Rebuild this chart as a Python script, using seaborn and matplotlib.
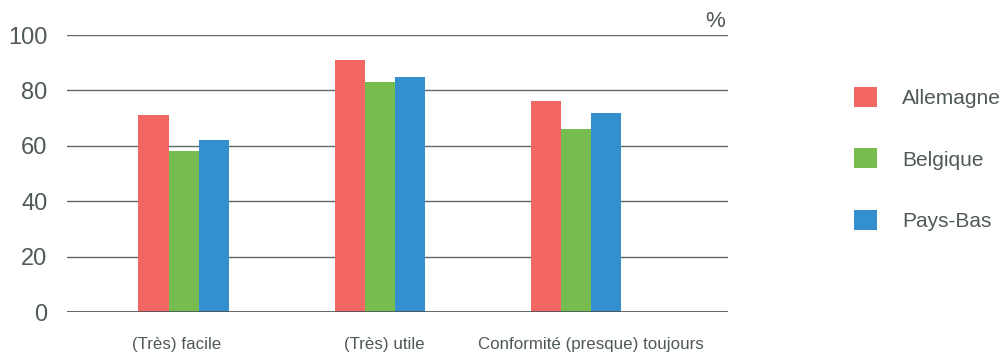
import matplotlib
matplotlib.use("Agg")
import matplotlib.pyplot as plt
from matplotlib.patches import Patch
import seaborn as sns
import pandas as pd

# Survey answers per country, in percent
categories = ["(Très) facile", "(Très) utile", "Conformité (presque) toujours"]
countries = ["Allemagne", "Belgique", "Pays-Bas"]
allemagne = [71, 91, 76]
belgique = [58, 83, 66]
pays_bas = [62, 85, 72]
y_ticks = [0, 20, 40, 60, 80, 100]

colors = ["#F26764", "#76BC4F", "#348FCE"]
text_color = "#4f5959"
grid_color = "#5f6868"

rows = []
for country, values in zip(countries, [allemagne, belgique, pays_bas]):
    for cat, v in zip(categories, values):
        rows.append({"categorie": cat, "pays": country, "valeur": v})
df = pd.DataFrame(rows)

sns.set_theme(style="white")
plt.rcParams["font.family"] = ["Liberation Sans", "DejaVu Sans"]

fig = plt.figure(figsize=(10.03, 3.54), dpi=100)
ax = fig.add_axes([0.0665, 0.1186, 0.6593, 0.7825])

sns.barplot(data=df, x="categorie", y="valeur", hue="pays", order=categories,
            hue_order=countries, palette=colors, width=0.46, gap=0,
            saturation=1, edgecolor="none", linewidth=0, legend=False, ax=ax,
            zorder=3)

ax.set_xlim(-0.596, 2.776)
ax.set_ylim(0, 100)
ax.set_yticks(y_ticks)
ax.set_yticklabels([str(t) for t in y_ticks], fontsize=17, color=text_color)
ax.tick_params(axis="y", length=0, pad=14)

# category captions sit slightly off the group centres
label_shift = [-0.036, 0.026, 0.077]
ax.set_xticks([i + d for i, d in enumerate(label_shift)])
ax.set_xticklabels(categories)
ax.tick_params(axis="x", length=0, pad=18, labelsize=12.2, colors=text_color)
ax.set_xlabel("")
ax.set_ylabel("")
for s in ax.spines.values():
    s.set_visible(False)
ax.yaxis.grid(True, color=grid_color, linewidth=1.0)
ax.set_axisbelow(True)
ax.axhline(0, color="#4a5454", linewidth=1.2, zorder=4)

ax.text(0.995, 1.01, "%", transform=ax.transAxes, ha="right", va="bottom",
        fontsize=16, color=text_color)

handles = [Patch(facecolor=c, edgecolor="none") for c in colors]
fig.legend(handles, countries, loc="upper left", bbox_to_anchor=(0.8514, 0.755),
           frameon=False, fontsize=15, labelcolor=text_color,
           handlelength=1.1, handleheight=1.1, handletextpad=1.2,
           labelspacing=1.95, borderpad=0, borderaxespad=0)

fig.savefig("out.png", dpi=100, facecolor="white")
